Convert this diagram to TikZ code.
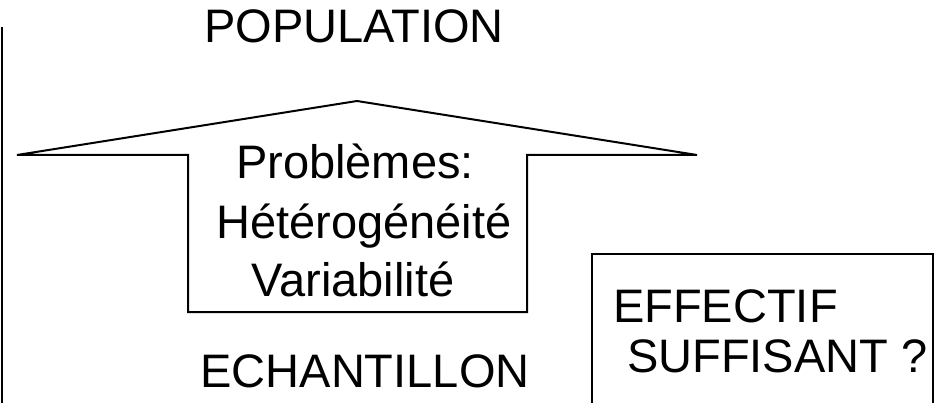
\documentclass[tikz,border=0pt]{standalone}
\usepackage{fontspec}
\setmainfont{Liberation Sans}
\begin{document}
\begin{tikzpicture}[x=1pt,y=-1pt,
  outline/.style={draw=black,line width=2pt,line join=miter},
  label/.style={inner sep=0pt,font=\fontsize{47pt}{50pt}\selectfont}]
\useasboundingbox (0,0) rectangle (942,403);
% vertical rule on the left
\draw[outline,line width=2.4pt] (2,27) -- (2,403);
% broad upward arrow
\draw[outline] (188,312) -- (188,155) -- (17,155) -- (357,101) -- (697,155)
  -- (527,155) -- (527,312) -- cycle;
% open box on the lower right
\draw[outline] (592,403) -- (592,254) -- (933,254) -- (933,403);
% texts
\node[label,anchor=base] (pop) at (354,43) {POPULATION};
\node[label,anchor=base] (ech) at (365,387) {ECHANTILLON};
\node[label,anchor=base] (pb) at (355,179) {Problèmes:};
\node[label,anchor=base] (het) at (364,239) {Hétérogénéité};
\node[label,anchor=base] (var) at (353,296) {Variabilité};
\node[label,anchor=base west] (eff) at (613,323) {EFFECTIF};
\node[label,anchor=base west] (suf) at (627,372) {SUFFISANT ?};
\end{tikzpicture}
\end{document}
